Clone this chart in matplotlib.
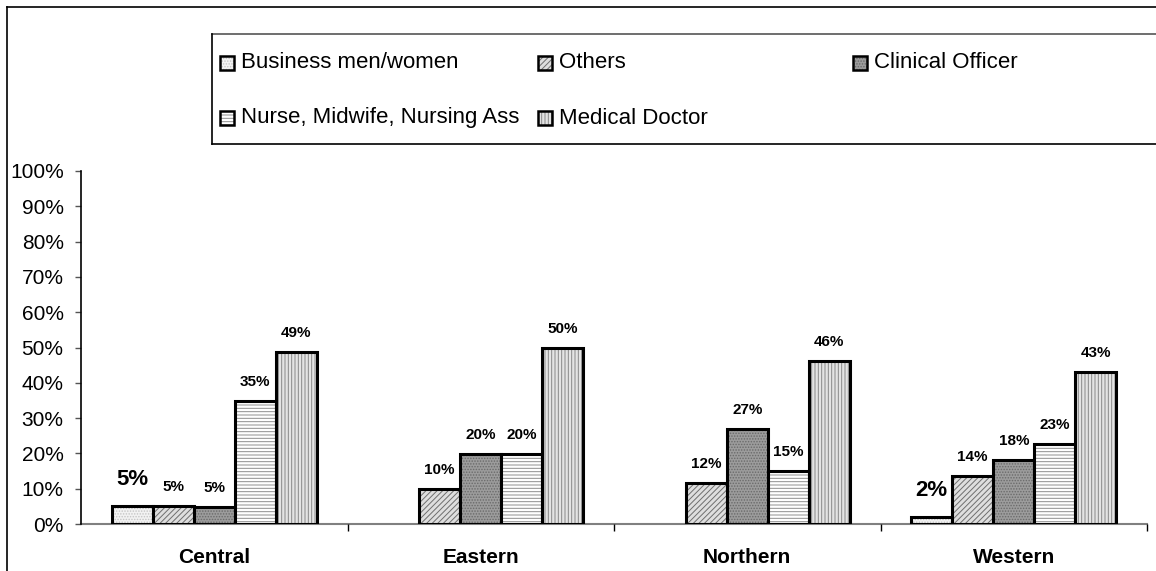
import numpy as np
import matplotlib
matplotlib.use('Agg')
import matplotlib.pyplot as plt
from matplotlib.patches import Rectangle
from matplotlib.lines import Line2D

plt.rcParams['font.family'] = ['Liberation Sans', 'DejaVu Sans']
plt.rcParams['hatch.linewidth'] = 0.7

# data (percent of respondents by region)
regions = ['Central', 'Eastern', 'Northern', 'Western']
series = ['Business men/women', 'Others', 'Clinical Officer',
          'Nurse, Midwife, Nursing Ass', 'Medical Doctor']
business = [5.1, 0, 0, 2.1]
others = [5.1, 9.9, 11.6, 13.6]
clinical = [4.7, 19.8, 26.9, 18.0]
nurse = [34.8, 19.8, 15.1, 22.6]
doctor = [48.7, 49.9, 46.1, 43.1]
yticks = [0, 10, 20, 30, 40, 50, 60, 70, 80, 90, 100]

values = [business, others, clinical, nurse, doctor]

# fill style per series: face, hatch, hatch colour
styles = [
    ('#f2f2f2', '......', '#c4c4c4'),
    ('#dedede', '//////', '#6e6e6e'),
    ('#9c9c9c', '......', '#6a6a6a'),
    ('#ffffff', '-----', '#8e8e8e'),
    ('#e4e4e4', '|||||', '#888888'),
]
label_size = [16, 11, 11, 11, 11]
label_off = [19, 13.7, 13.7, 13.7, 13.7]

W, H = 1156, 571
fig = plt.figure(figsize=(W / 100, H / 100), dpi=100)
ax = fig.add_axes([81 / W, 47 / H, (1147 - 81) / W, 353 / H])

x = np.arange(len(regions))
bw = 0.154
for i, vals in enumerate(values):
    face, hatch, hcol = styles[i]
    pos = x + (i - 2) * bw
    fills = ax.bar(pos, vals, bw, color=face, hatch=hatch, edgecolor=hcol,
                   linewidth=0)
    edges = ax.bar(pos, vals, bw, fill=False, edgecolor='black', linewidth=2.2)
    for xp, v, f, e in zip(pos, vals, fills, edges):
        if v <= 0:
            # no answers in this region: nothing to draw
            f.set_visible(False)
            e.set_visible(False)
            continue
        ax.annotate(f'{v:.0f}%', (xp, v), xytext=(0, label_off[i]),
                    textcoords='offset points', ha='center', va='center',
                    fontsize=label_size[i], fontweight='bold')

ax.set_xlim(-0.5, len(regions) - 0.5)
ax.set_ylim(0, 100)
ax.set_yticks(yticks)
ax.set_yticklabels([f'{t}%' for t in yticks], fontsize=15)
ax.tick_params(axis='y', length=4, width=1, color='#555555', pad=8.5)

ax.set_xticks(x)
ax.set_xticklabels(regions, fontsize=15, fontweight='bold')
ax.tick_params(axis='x', which='major', length=0, pad=17)
ax.set_xticks(list(x[1:] - 0.5) + [len(regions) - 0.5], minor=True)
ax.tick_params(axis='x', which='minor', length=5, width=1, color='black',
               direction='out')

for s in ['top', 'right']:
    ax.spines[s].set_visible(False)
ax.spines['left'].set_color('black')
ax.spines['left'].set_linewidth(1.2)
ax.spines['bottom'].set_color('#808080')
ax.spines['bottom'].set_linewidth(1.5)
ax.spines['bottom'].set_zorder(0)


def fx(px):
    return px / W


def fy(py):
    return 1 - py / H


# outer chart border (open on the right and bottom)
fig.add_artist(Line2D([fx(7), fx(7)], [0, fy(7)], color='black', lw=1.2,
                      transform=fig.transFigure))
fig.add_artist(Line2D([fx(7), 1], [fy(7), fy(7)], color='black', lw=1.2,
                      transform=fig.transFigure))

# legend box
fig.add_artist(Line2D([fx(212), 1], [fy(34), fy(34)], color='#555555', lw=1.2,
                      transform=fig.transFigure))
fig.add_artist(Line2D([fx(212), 1], [fy(144), fy(144)], color='black', lw=1.2,
                      transform=fig.transFigure))
fig.add_artist(Line2D([fx(212), fx(212)], [fy(144), fy(34)], color='black',
                      lw=1.2, transform=fig.transFigure))

legend_pos = [(220, 63), (538, 63), (853, 63), (220, 118), (538, 118)]
for i, name in enumerate(series):
    face, hatch, hcol = styles[i]
    lx, ly = legend_pos[i]
    rect = dict(xy=(fx(lx), fy(ly + 7)), width=14 / W, height=14 / H,
                transform=fig.transFigure)
    fig.add_artist(Rectangle(facecolor=face, hatch=hatch, edgecolor=hcol,
                             linewidth=0, **rect))
    fig.add_artist(Rectangle(fill=False, edgecolor='black', linewidth=1.8,
                             **rect))
    fig.text(fx(lx + 21), fy(ly), name, fontsize=16, ha='left', va='center')

fig.savefig('out.png', dpi=100, facecolor='white')
